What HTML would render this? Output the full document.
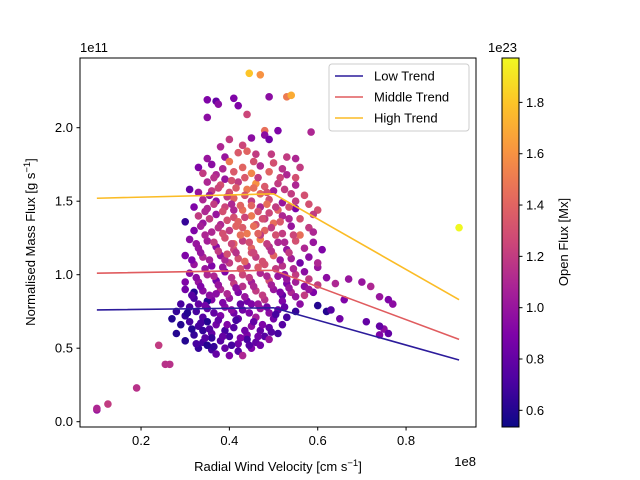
<!DOCTYPE html>
<html><head><meta charset="utf-8">
<style>
html,body{margin:0;padding:0;background:#fff;}
svg{display:block;font-family:"Liberation Sans","DejaVu Sans",sans-serif;}
</style></head>
<body>
<svg id="chart" width="640" height="480" viewBox="0 0 640 480">
<defs>
<linearGradient id="plasma" x1="0" y1="1" x2="0" y2="0">
<stop offset="0" stop-color="#0d0887"/><stop offset="0.125" stop-color="#4c02a1"/><stop offset="0.25" stop-color="#7e03a8"/><stop offset="0.375" stop-color="#a82296"/><stop offset="0.5" stop-color="#cc4778"/><stop offset="0.625" stop-color="#e56b5d"/><stop offset="0.75" stop-color="#f89540"/><stop offset="0.875" stop-color="#fdc328"/><stop offset="1" stop-color="#f0f921"/>
</linearGradient>
<clipPath id="plotclip"><rect x="80" y="58" width="396" height="369"/></clipPath>
</defs>
<g id="points" clip-path="url(#plotclip)"></g>
<g id="trends" clip-path="url(#plotclip)"></g>
<rect x="80" y="58" width="396" height="369" fill="none" stroke="#000" stroke-width="1"/>
<g id="xticks"></g>
<g id="yticks"></g>
<text x="278" y="471" font-size="13" text-anchor="middle">Radial Wind Velocity [cm s<tspan dy="-5" font-size="9.5">−1</tspan><tspan dy="5">]</tspan></text>
<text x="476" y="466" font-size="13" text-anchor="end">1e8</text>
<text transform="translate(35,242) rotate(-90)" font-size="13" text-anchor="middle">Normalised Mass Flux [g s<tspan dy="-5" font-size="9.5">−1</tspan><tspan dy="5">]</tspan></text>
<text x="80" y="52" font-size="13">1e11</text>
<g>
<rect x="329" y="64" width="140" height="67" rx="3" fill="#fff" fill-opacity="0.8" stroke="#ccc"/>
<line x1="335" y1="76" x2="363" y2="76" stroke="#2c1b9b" stroke-width="1.6"/>
<text x="374" y="80.5" font-size="13">Low Trend</text>
<line x1="335" y1="97" x2="363" y2="97" stroke="#e05c5f" stroke-width="1.6"/>
<text x="374" y="101.5" font-size="13">Middle Trend</text>
<line x1="335" y1="118" x2="363" y2="118" stroke="#fbbc26" stroke-width="1.6"/>
<text x="374" y="122.5" font-size="13">High Trend</text>
</g>
<g>
<rect x="502" y="58" width="17" height="369" fill="url(#plasma)" stroke="#000" stroke-width="1"/>
<g id="cticks"></g>
<text x="488" y="52" font-size="13">1e23</text>
<text transform="translate(568,242) rotate(-90)" font-size="13" text-anchor="middle">Open Flux [Mx]</text>
</g>
</svg>
<script>
const xTicks = [0.2, 0.4, 0.6, 0.8];
const yTicks = [0.0, 0.5, 1.0, 1.5, 2.0];
const cTicks = [0.6, 0.8, 1.0, 1.2, 1.4, 1.6, 1.8];
const cMin = 0.535, cMax = 1.973;
const trendX = [0.10, 0.50, 0.92];
const lowTrend = [0.76, 0.775, 0.42];
const middleTrend = [1.01, 1.03, 0.56];
const highTrend = [1.52, 1.55, 0.83];
// [velocity(1e8), mass flux(1e11), open flux(1e23)]
const observations = [
[0.10,0.08,1.0],[0.10,0.09,1.1],[0.125,0.12,1.2],[0.19,0.23,1.15],[0.24,0.52,1.2],[0.255,0.39,1.15],[0.265,0.39,1.15],
[0.92,1.32,1.97],[0.445,2.37,1.8],[0.47,2.36,1.6],[0.53,2.21,1.5],[0.54,2.22,1.7],
[0.35,2.19,0.9],[0.37,2.18,0.8],[0.375,2.16,0.95],[0.41,2.2,0.9],[0.42,2.15,0.9],[0.49,2.21,0.95],[0.35,2.07,0.95],[0.44,2.09,1.25],
[0.48,1.98,1.45],[0.51,1.98,0.9],[0.585,1.97,1.1],[0.45,1.93,0.95],[0.48,1.95,0.95],[0.49,1.92,0.85],[0.40,1.92,1.2],[0.43,1.88,1.25],
[0.38,1.87,1.1],[0.42,1.83,1.35],[0.44,1.84,1.4],[0.46,1.82,1.2],[0.39,1.80,1.0],[0.35,1.79,1.0],[0.53,1.80,1.2],[0.55,1.79,1.1],
[0.36,1.75,0.95],[0.40,1.77,1.5],[0.43,1.73,1.4],[0.47,1.74,1.1],[0.50,1.76,1.3],[0.52,1.72,1.15],[0.33,1.73,0.9],[0.56,1.73,1.2],
[0.34,1.69,1.2],[0.37,1.68,1.1],[0.41,1.70,1.35],[0.45,1.69,1.55],[0.49,1.70,1.4],[0.53,1.68,1.1],[0.55,1.66,1.3],[0.39,1.65,1.0],
[0.35,1.63,1.1],[0.38,1.61,1.3],[0.42,1.63,1.2],[0.46,1.62,1.6],[0.48,1.60,1.35],[0.51,1.62,1.2],[0.55,1.61,1.1],[0.31,1.58,0.8],
[0.33,1.56,1.0],[0.36,1.57,1.2],[0.40,1.56,1.3],[0.44,1.58,1.5],[0.47,1.55,1.4],[0.50,1.57,1.05],[0.54,1.55,1.2],[0.57,1.54,1.3],
[0.34,1.51,1.1],[0.37,1.50,0.95],[0.41,1.52,1.4],[0.45,1.50,1.2],[0.49,1.51,1.3],[0.52,1.49,1.0],[0.55,1.50,1.2],[0.58,1.48,1.3],
[0.32,1.46,0.9],[0.35,1.45,1.1],[0.39,1.46,1.25],[0.43,1.44,1.45],[0.47,1.46,1.1],[0.51,1.44,1.4],[0.55,1.45,0.9],[0.60,1.44,1.3],
[0.33,1.40,1.2],[0.37,1.41,1.0],[0.41,1.39,1.3],[0.45,1.40,1.5],[0.48,1.38,1.2],[0.52,1.40,1.1],[0.56,1.38,1.3],[0.59,1.41,1.2],
[0.30,1.36,0.65],[0.34,1.35,1.0],[0.38,1.34,1.1],[0.42,1.36,1.4],[0.46,1.34,1.3],[0.50,1.35,1.45],[0.54,1.33,1.0],[0.58,1.32,1.2],
[0.32,1.30,0.9],[0.36,1.29,1.1],[0.40,1.30,1.2],[0.44,1.28,1.5],[0.48,1.30,1.4],[0.52,1.28,1.2],[0.56,1.27,1.45],[0.59,1.29,1.1],
[0.31,1.24,0.95],[0.35,1.23,1.05],[0.39,1.25,1.3],[0.43,1.23,1.2],[0.47,1.24,1.55],[0.51,1.22,1.1],[0.55,1.23,1.3],[0.59,1.22,1.0],
[0.33,1.18,1.0],[0.37,1.19,0.95],[0.41,1.17,1.25],[0.45,1.18,1.4],[0.49,1.19,1.15],[0.53,1.17,1.0],[0.57,1.18,1.1],[0.61,1.17,0.9],
[0.30,1.13,0.9],[0.34,1.12,1.1],[0.38,1.13,1.0],[0.42,1.11,1.3],[0.46,1.12,1.2],[0.50,1.13,1.4],[0.54,1.11,1.05],[0.58,1.12,0.95],
[0.32,1.07,1.0],[0.36,1.06,0.9],[0.40,1.08,1.2],[0.44,1.06,1.1],[0.48,1.07,1.3],[0.52,1.06,1.15],[0.56,1.08,0.85],[0.60,1.05,1.0],
[0.31,1.01,0.95],[0.35,1.00,1.1],[0.39,1.02,0.9],[0.43,1.00,1.25],[0.47,1.01,1.1],[0.51,0.99,1.0],[0.55,1.00,1.2],[0.58,0.97,1.2],
[0.33,0.95,1.0],[0.37,0.96,0.85],[0.41,0.94,1.2],[0.45,0.95,1.05],[0.49,0.96,1.3],[0.53,0.94,0.9],[0.57,0.92,0.95],[0.60,0.93,1.2],
[0.30,0.90,0.85],[0.34,0.89,0.95],[0.38,0.90,1.1],[0.42,0.88,0.9],[0.46,0.89,1.2],[0.50,0.90,1.0],[0.54,0.88,1.1],[0.52,0.86,0.8],
[0.32,0.84,0.7],[0.36,0.83,0.9],[0.40,0.84,1.0],[0.44,0.82,0.85],[0.48,0.83,1.15],[0.52,0.82,0.9],[0.56,0.80,0.95],[0.29,0.80,0.7],
[0.31,0.78,0.7],[0.35,0.77,0.8],[0.39,0.78,0.95],[0.43,0.76,0.85],[0.47,0.77,1.0],[0.51,0.76,0.8],[0.55,0.75,0.65],[0.28,0.75,0.65],
[0.30,0.72,0.65],[0.34,0.71,0.75],[0.38,0.72,0.9],[0.42,0.70,0.8],[0.46,0.71,1.05],[0.50,0.70,0.85],[0.53,0.71,0.7],[0.27,0.70,0.6],
[0.29,0.66,0.6],[0.33,0.65,0.7],[0.37,0.66,0.85],[0.41,0.64,0.75],[0.45,0.65,0.95],[0.49,0.64,0.8],[0.52,0.66,0.75],[0.31,0.68,0.7],
[0.28,0.60,0.6],[0.32,0.59,0.65],[0.36,0.60,0.8],[0.40,0.58,0.7],[0.44,0.59,0.9],[0.48,0.58,0.75],[0.51,0.60,0.7],[0.34,0.62,0.65],
[0.30,0.55,0.6],[0.34,0.54,0.7],[0.38,0.55,0.75],[0.42,0.53,0.85],[0.46,0.54,0.8],[0.49,0.56,1.0],[0.36,0.57,0.65],[0.44,0.56,0.7],
[0.33,0.50,0.65],[0.36,0.49,0.7],[0.39,0.50,0.8],[0.42,0.48,0.75],[0.45,0.50,0.9],[0.47,0.52,0.85],[0.40,0.45,0.9],[0.37,0.46,0.8],
[0.35,0.52,0.6],[0.43,0.45,1.1],[0.39,0.62,0.7],[0.47,0.62,0.8],[0.41,0.74,0.85],[0.45,0.80,0.9],[0.37,0.87,0.95],[0.43,0.92,1.15],
[0.39,1.10,1.1],[0.45,1.15,1.3],[0.41,1.21,1.4],[0.47,1.27,1.2],[0.43,1.32,1.35],[0.49,1.42,1.25],[0.45,1.47,1.4],[0.41,1.44,1.1],
[0.35,0.68,0.6],[0.33,0.80,0.8],[0.49,0.74,0.95],[0.55,0.85,1.0],[0.57,1.02,0.95],[0.60,1.08,1.1],[0.53,0.97,1.0],[0.30,0.95,0.9],
[0.59,0.88,0.9],[0.62,0.75,0.6],[0.66,0.83,0.9],[0.64,0.94,1.1],[0.62,0.98,0.95],[0.65,0.70,0.85],[0.60,0.79,0.6],[0.63,0.76,0.75],
[0.72,0.92,1.1],[0.70,0.95,1.0],[0.74,0.85,1.0],[0.67,0.97,1.0],[0.71,0.68,0.8],[0.76,0.83,0.9],[0.77,0.80,0.95],[0.75,0.63,0.95],
[0.76,0.60,0.8],[0.74,0.65,0.8],[0.74,0.59,0.9],[0.35,0.82,0.6],[0.32,0.88,0.6],[0.55,0.95,1.05],[0.57,0.86,1.2],[0.58,0.90,1.0],
[0.325,0.53,0.7],[0.345,0.57,0.75],[0.365,0.51,0.65],[0.385,0.58,0.8],[0.405,0.52,0.7],[0.425,0.57,0.9],[0.445,0.52,0.75],[0.465,0.58,0.85],
[0.315,0.63,0.6],[0.335,0.67,0.7],[0.355,0.63,0.75],[0.375,0.69,0.8],[0.395,0.66,0.9],[0.415,0.69,0.7],[0.435,0.62,0.85],[0.455,0.68,0.8],[0.475,0.66,0.9],[0.495,0.61,0.75],
[0.305,0.74,0.6],[0.325,0.75,0.7],[0.345,0.79,0.85],[0.365,0.74,0.8],[0.385,0.81,0.9],[0.405,0.76,0.95],[0.425,0.80,0.8],[0.445,0.74,0.9],[0.465,0.80,1.0],[0.485,0.78,0.85],[0.505,0.73,0.7],[0.525,0.78,0.8],
[0.315,0.86,0.75],[0.335,0.92,0.9],[0.355,0.86,0.95],[0.375,0.93,1.0],[0.395,0.87,1.1],[0.415,0.91,0.95],[0.435,0.85,1.0],[0.455,0.92,1.1],[0.475,0.86,1.2],[0.495,0.93,1.05],[0.515,0.88,0.9],[0.535,0.91,1.0],
[0.325,0.98,0.95],[0.345,1.04,1.0],[0.365,0.99,1.1],[0.385,1.05,1.0],[0.405,0.98,1.15],[0.425,1.04,1.3],[0.445,0.98,1.2],[0.465,1.05,1.35],[0.485,0.99,1.1],[0.505,1.04,1.2],[0.525,1.00,1.0],[0.545,1.04,1.1],
[0.315,1.10,0.9],[0.335,1.15,1.0],[0.355,1.10,1.05],[0.375,1.16,1.2],[0.395,1.14,1.3],[0.415,1.15,1.15],[0.435,1.09,1.4],[0.455,1.15,1.25],[0.475,1.09,1.3],[0.495,1.16,1.15],[0.515,1.10,1.0],[0.535,1.15,1.2],
[0.325,1.21,1.0],[0.345,1.27,1.1],[0.365,1.22,1.2],[0.385,1.28,1.3],[0.405,1.21,1.25],[0.425,1.27,1.45],[0.445,1.22,1.3],[0.465,1.28,1.4],[0.485,1.21,1.2],[0.505,1.27,1.3],[0.525,1.22,1.1],[0.545,1.27,1.25],
[0.335,1.33,1.05],[0.355,1.38,1.2],[0.375,1.32,1.15],[0.395,1.37,1.3],[0.415,1.33,1.4],[0.435,1.39,1.25],[0.455,1.33,1.45],[0.475,1.38,1.3],[0.495,1.32,1.2],[0.515,1.36,1.35],[0.535,1.38,1.1],
[0.345,1.43,1.1],[0.365,1.48,1.2],[0.385,1.43,1.3],[0.405,1.48,1.1],[0.425,1.47,1.4],[0.465,1.43,1.3],[0.485,1.48,1.45],[0.505,1.46,1.2],[0.535,1.46,1.3],
[0.355,1.54,1.0],[0.375,1.59,1.25],[0.395,1.53,1.2],[0.415,1.59,1.35],[0.435,1.54,1.3],[0.455,1.59,1.45],[0.485,1.56,1.3],[0.525,1.58,1.2],
[0.365,1.66,1.15],[0.405,1.64,1.3],[0.435,1.66,1.35],[0.465,1.66,1.2],[0.515,1.66,1.25],[0.385,1.72,1.1],[0.455,1.77,1.3],[0.495,1.82,1.2]
];

const X0 = 52.7, XS = 441.7, Y0 = 421.7, YS = 147;
function sx(v){ return X0 + XS * v; }
function sy(v){ return Y0 - YS * v; }
function sc(v){ return 427 - (v - cMin) / (cMax - cMin) * 369; }
const stops = [[13,8,135],[76,2,161],[126,3,168],[168,34,150],[204,71,120],[229,107,93],[248,149,64],[253,195,40],[240,249,33]];
function plasma(v){
  let t = Math.max(0, Math.min(1, (v - cMin) / (cMax - cMin))) * 8;
  const i = Math.min(7, Math.floor(t)), f = t - i;
  const a = stops[i], b = stops[i+1];
  return 'rgb(' + a.map((c,k)=>Math.round(c + (b[k]-c)*f)).join(',') + ')';
}
const NS = 'http://www.w3.org/2000/svg';
function mk(tag, attrs, parent){ const e = document.createElementNS(NS, tag); for (const k in attrs) e.setAttribute(k, attrs[k]); parent.appendChild(e); return e; }

const pg = document.getElementById('points');
observations.forEach(function(p){
  const c = mk('circle', {cx: sx(p[0]), cy: sy(p[1]), r: 3.8, fill: plasma(p[2])}, pg);
  
  
});

const tg = document.getElementById('trends');
[[lowTrend,'#2c1b9b','low-trend-line'],[middleTrend,'#e05c5f','middle-trend-line'],[highTrend,'#fbbc26','high-trend-line']].forEach(function(s){
  const pts = trendX.map((x,i)=>sx(x)+','+sy(s[0][i])).join(' ');
  const l = mk('polyline', {points: pts, fill: 'none', stroke: s[1], 'stroke-width': 1.6}, tg);
  
  
});

const xg = document.getElementById('xticks');
xTicks.forEach(function(v){
  const t = mk('line', {x1: sx(v), x2: sx(v), y1: 427, y2: 430.5, stroke: '#000'}, xg);
  
  
  const l = mk('text', {x: sx(v), y: 445, 'font-size': 13, 'text-anchor': 'middle'}, xg);
  l.textContent = v.toFixed(1);
  
  
});
const yg = document.getElementById('yticks');
yTicks.forEach(function(v){
  const t = mk('line', {x1: 76.5, x2: 80, y1: sy(v), y2: sy(v), stroke: '#000'}, yg);
  
  
  const l = mk('text', {x: 73, y: sy(v) + 4.5, 'font-size': 13, 'text-anchor': 'end'}, yg);
  l.textContent = v.toFixed(1);
  
  
});
const cg = document.getElementById('cticks');
cTicks.forEach(function(v){
  const t = mk('line', {x1: 519, x2: 522.5, y1: sc(v), y2: sc(v), stroke: '#000'}, cg);
  
  
  const l = mk('text', {x: 526, y: sc(v) + 4.5, 'font-size': 13}, cg);
  l.textContent = v.toFixed(1);
  
  
});
</script>
</body></html>
